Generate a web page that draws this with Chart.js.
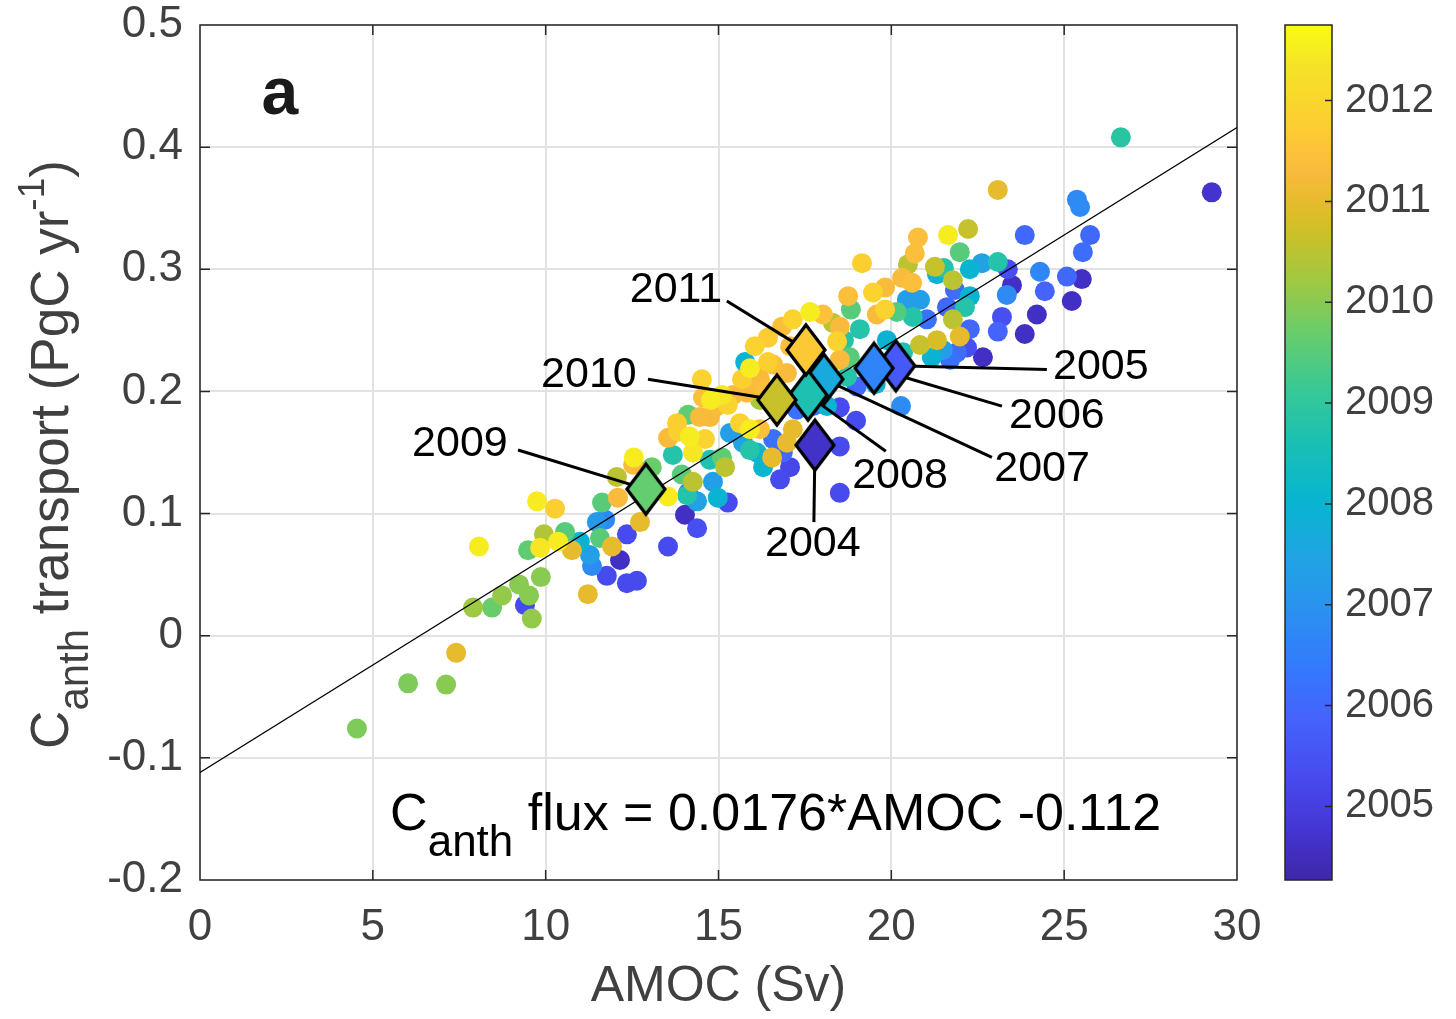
<!DOCTYPE html>
<html>
<head>
<meta charset="utf-8">
<title>AMOC vs Canth transport</title>
<script src="https://cdn.jsdelivr.net/npm/chart.js@4.4.1/dist/chart.umd.min.js"></script>
<style>
    html, body { margin: 0; padding: 0; background: #fff; }
    #wrap { width: 1456px; height: 1019px; }
</style>
</head>
<body>
<div id="wrap"><canvas id="amoc-canth-chart" width="1456" height="1019"></canvas></div>
<script>
(function () {
    'use strict';

    var FONT = '"Liberation Sans", Arial, Helvetica, sans-serif';
    var AXIS_GREY = '#404040';

    // Individual samples: AMOC strength (Sv), Canth transport (PgC/yr), sample time (decimal year)
    var amoc = [
        4.54, 6.02, 7.12, 7.41, 7.90, 8.45, 8.74, 9.23, 9.40, 9.52,
        9.60, 9.86, 8.07, 9.49, 9.84, 9.95, 9.75, 10.27, 10.36, 10.56,
        10.76, 10.99, 11.28, 11.34, 11.48, 11.57, 11.72, 11.63, 11.92, 11.77,
        12.15, 12.35, 12.64, 11.22, 12.35, 12.09, 12.06, 12.55, 12.53, 13.07,
        12.73, 13.54, 13.54, 13.68, 13.54, 13.80, 14.12, 14.17, 14.26, 14.03,
        14.38, 14.09, 14.26, 14.38,
        14.52, 14.55, 14.78, 15.10, 15.27, 15.42, 15.68, 15.91, 15.77, 16.05,
        16.43, 16.84, 17.15, 17.65, 18.02,
        13.83, 14.46, 14.75, 14.90, 14.61, 14.75, 15.10, 15.19, 13.94, 14.98,
        14.84, 15.27, 14.12,
        15.33, 15.71, 15.91, 15.91, 15.62, 16.20, 16.11, 16.29, 16.55, 16.58,
        16.86, 16.78, 17.07, 17.15, 17.27, 16.20, 16.20, 16.34, 16.14, 16.43,
        15.82, 16.58, 16.98,
        17.07, 17.73, 18.14, 16.98, 18.51, 18.51,
        18.31, 18.51, 18.75, 19.47, 19.82, 19.58, 20.31, 20.60, 20.83, 20.16,
        18.83, 19.09, 18.63, 18.43, 18.51, 18.80, 18.72, 19.00, 19.55, 20.28,
        18.98, 18.51, 20.77, 21.64, 20.68, 19.15, 20.48, 21.26, 21.32, 21.78,
        21.52, 21.98, 19.82,
        20.45, 20.62, 21.03, 21.61, 21.78, 21.32, 20.83, 21.49, 21.17, 21.90,
        20.34, 19.87,
        22.22, 23.86, 25.75, 25.54, 23.08, 22.62, 22.27, 23.37, 23.49, 24.30,
        25.08, 25.51, 23.34, 24.44, 25.22, 22.27, 21.84, 22.13, 23.20, 24.21,
        23.08, 23.86, 21.98, 22.27, 22.19, 22.65, 21.70, 23.08, 25.37, 25.46,
        29.27, 26.64
    ];

    var canth = [
        -0.076, -0.039, -0.040, -0.014, 0.023, 0.023, 0.033, 0.042, 0.025, 0.033,
        0.014, 0.048, 0.073, 0.070, 0.072, 0.083, 0.110, 0.104, 0.077, 0.085,
        0.070, 0.077, 0.066, 0.057, 0.093, 0.080, 0.095, 0.109, 0.073, 0.049,
        0.062, 0.043, 0.045, 0.034, 0.083, 0.113, 0.130, 0.146, 0.140, 0.138,
        0.093, 0.073, 0.114, 0.148, 0.162, 0.174, 0.181, 0.163, 0.150, 0.099,
        0.088, 0.115, 0.126, 0.110,
        0.210, 0.195, 0.193, 0.197, 0.189, 0.197, 0.210, 0.219, 0.224, 0.237,
        0.244, 0.253, 0.259, 0.265, 0.263,
        0.167, 0.179, 0.179, 0.187, 0.161, 0.144, 0.146, 0.138, 0.132, 0.113,
        0.126, 0.109, 0.117,
        0.166, 0.158, 0.169, 0.152, 0.174, 0.169, 0.150, 0.138, 0.146, 0.161,
        0.150, 0.128, 0.138, 0.169, 0.185, 0.193, 0.210, 0.201, 0.216, 0.224,
        0.199, 0.222, 0.215,
        0.237, 0.188, 0.188, 0.158, 0.155, 0.117,
        0.256, 0.253, 0.278, 0.281, 0.267, 0.263, 0.293, 0.289, 0.275, 0.265,
        0.267, 0.251, 0.242, 0.241, 0.226, 0.228, 0.212, 0.204, 0.206, 0.188,
        0.176, 0.187, 0.326, 0.328, 0.313, 0.305, 0.304, 0.302, 0.296, 0.291,
        0.301, 0.314, 0.285,
        0.275, 0.261, 0.259, 0.269, 0.259, 0.242, 0.238, 0.234, 0.228, 0.232,
        0.232, 0.242,
        0.333, 0.328, 0.328, 0.314, 0.306, 0.305, 0.300, 0.300, 0.287, 0.298,
        0.294, 0.292, 0.279, 0.282, 0.274, 0.278, 0.283, 0.269, 0.261, 0.263,
        0.249, 0.247, 0.245, 0.251, 0.236, 0.228, 0.226, 0.365, 0.357, 0.351,
        0.363, 0.408
    ];

    var sampleYear = [
        2009.9, 2009.9, 2010.0, 2011.0, 2010.2, 2009.7, 2010.1, 2010.0, 2005.3, 2010.0,
        2010.1, 2010.0, 2012.5, 2009.6, 2012.4, 2010.4, 2012.5, 2011.8, 2012.5, 2009.5,
        2011.0, 2008.0, 2007.3, 2006.8, 2007.2, 2009.5, 2006.7, 2009.5, 2011.0, 2005.3,
        2004.6, 2005.3, 2005.3, 2011.0, 2005.3, 2011.3, 2010.5, 2012.5, 2011.3, 2009.7,
        2011.0, 2005.3, 2012.5, 2008.8, 2011.3, 2011.8, 2009.6, 2012.5, 2012.4, 2004.6,
        2005.4, 2008.8, 2010.5, 2007.4,
        2011.9, 2011.4, 2012.5, 2012.4, 2011.9, 2011.3, 2011.8, 2012.5, 2008.0, 2011.9,
        2011.7, 2011.4, 2011.9, 2012.5, 2011.5,
        2011.8, 2011.3, 2011.2, 2011.3, 2011.9, 2008.7, 2009.6, 2010.5, 2009.5, 2008.0,
        2007.3, 2005.3, 2006.0,
        2007.3, 2007.4, 2012.5, 2008.8, 2011.9, 2011.4, 2008.0, 2008.1, 2011.0, 2006.2,
        2006.0, 2005.3, 2005.2, 2011.0, 2006.2, 2010.3, 2011.3, 2011.4, 2011.2, 2011.8,
        2011.3, 2011.4, 2011.3,
        2011.4, 2006.2, 2008.0, 2011.0, 2005.3, 2005.3,
        2010.5, 2011.3, 2011.4, 2011.9, 2011.9, 2011.3, 2011.3, 2011.4, 2007.3, 2009.4,
        2009.5, 2008.8, 2008.8, 2011.9, 2011.3, 2009.5, 2008.8, 2006.0, 2008.0, 2006.8,
        2005.3, 2005.3, 2011.4, 2012.5, 2011.4, 2011.8, 2010.5, 2010.6, 2008.0, 2010.5,
        2008.8, 2009.5, 2011.3,
        2007.3, 2008.8, 2006.2, 2006.0, 2010.5, 2010.8, 2010.6, 2007.3, 2008.0, 2006.1,
        2008.7, 2008.0,
        2010.6, 2006.0, 2006.0, 2006.1, 2008.8, 2007.4, 2008.0, 2005.4, 2004.6, 2006.7,
        2006.0, 2004.6, 2006.8, 2005.9, 2004.6, 2008.0, 2006.1, 2008.8, 2005.4, 2004.6,
        2005.9, 2004.6, 2011.0, 2006.0, 2005.4, 2004.6, 2006.2, 2011.0, 2006.8, 2006.8,
        2004.7, 2008.9
    ];

    // Annual means
    var meanYears = [2004, 2005, 2006, 2007, 2008, 2009, 2010, 2011];
    var meanAmoc = [17.79, 20.13, 19.50, 18.05, 17.59, 12.90, 16.69, 17.53];
    var meanCanth = [0.156, 0.221, 0.219, 0.210, 0.197, 0.120, 0.193, 0.234];

    // Linear fit Canth flux = slope * AMOC + intercept
    var fitSlope = 0.0176;
    var fitIntercept = -0.112;

    var xTicks = [0, 5, 10, 15, 20, 25, 30];
    var yTicks = [-0.2, -0.1, 0, 0.1, 0.2, 0.3, 0.4, 0.5];
    var colorbarTicks = [2005, 2006, 2007, 2008, 2009, 2010, 2011, 2012];
    var colorRange = [2004.27, 2012.75];

    // Where each year tag sits and where its leader line stops (data units)
    var tagLayout = {
        2004: { text: [17.73, 0.075], lineEnd: [17.76, 0.093] },
        2005: { text: [26.06, 0.220], lineEnd: [24.50, 0.218] },
        2006: { text: [24.79, 0.180], lineEnd: [23.20, 0.188] },
        2007: { text: [24.36, 0.136], lineEnd: [22.91, 0.146] },
        2008: { text: [20.25, 0.131], lineEnd: [19.84, 0.151] },
        2009: { text: [7.52, 0.157], lineEnd: [9.20, 0.152] },
        2010: { text: [11.25, 0.213], lineEnd: [12.96, 0.210] },
        2011: { text: [13.77, 0.283], lineEnd: [15.24, 0.274] }
    };

    // parula colormap, sampled from the 64 entry table
    var PARULA = [
        [0, 0.2422, 0.1504, 0.6603], [4, 0.2706, 0.2147, 0.8364],
        [8, 0.2813, 0.3006, 0.9414], [12, 0.2699, 0.3892, 0.9906],
        [16, 0.1963, 0.4847, 0.9892], [20, 0.1687, 0.5703, 0.9359],
        [24, 0.1248, 0.6459, 0.8883], [28, 0.0297, 0.7082, 0.8163],
        [32, 0.0964, 0.7500, 0.7120], [36, 0.2161, 0.7843, 0.5923],
        [40, 0.3909, 0.8029, 0.4354], [44, 0.6174, 0.7876, 0.2612],
        [48, 0.8203, 0.7498, 0.1535], [50, 0.9035, 0.7330, 0.1774],
        [52, 0.9728, 0.7298, 0.2394], [54, 0.9970, 0.7659, 0.2199],
        [56, 0.9892, 0.8136, 0.1885], [60, 0.9610, 0.8890, 0.1537],
        [63, 0.9769, 0.9839, 0.0805]
    ];

    function parula(value) {
        var t = (value - colorRange[0]) / (colorRange[1] - colorRange[0]);
        var idx = Math.max(0, Math.min(1, t)) * 63;
        var k = 0;
        while (k < PARULA.length - 2 && PARULA[k + 1][0] < idx) {
            k++;
        }
        var a = PARULA[k], b = PARULA[k + 1];
        var f = (idx - a[0]) / (b[0] - a[0]);
        var rgb = [1, 2, 3].map(function (j) {
            return Math.round(255 * (a[j] + (b[j] - a[j]) * f));
        });
        return 'rgb(' + rgb.join(',') + ')';
    }

    function diamondImage(fill) {
        var w = 44, h = 56;
        var c = document.createElement('canvas');
        c.width = w;
        c.height = h;
        var ctx = c.getContext('2d');
        ctx.beginPath();
        ctx.moveTo(w / 2, 3);
        ctx.lineTo(w - 3, h / 2);
        ctx.lineTo(w / 2, h - 3);
        ctx.lineTo(3, h / 2);
        ctx.closePath();
        ctx.fillStyle = fill;
        ctx.fill();
        ctx.lineWidth = 3.2;
        ctx.lineJoin = 'miter';
        ctx.strokeStyle = '#000';
        ctx.stroke();
        return c;
    }

    // later samples are drawn on top
    var order = amoc.map(function (v, i) { return i; }).sort(function (a, b) {
        return sampleYear[a] - sampleYear[b];
    });
    var samplePoints = order.map(function (i) { return { x: amoc[i], y: canth[i] }; });
    var sampleColors = order.map(function (i) { return parula(sampleYear[i]); });

    // annual means are coloured at the middle of their averaging window
    var meanPoints = meanYears.map(function (y, i) { return { x: meanAmoc[i], y: meanCanth[i] }; });
    var meanImages = meanYears.map(function (y) { return diamondImage(parula(y + 0.65)); });

    var leaderSets = meanYears.map(function (y, i) {
        var end = tagLayout[y].lineEnd;
        return {
            label: 'leader ' + y,
            data: [{ x: meanAmoc[i], y: meanCanth[i] }, { x: end[0], y: end[1] }],
            showLine: true,
            borderColor: '#000',
            borderWidth: 3,
            pointRadius: 0,
            order: 1
        };
    });

    var fitLine = [xTicks[0], xTicks[xTicks.length - 1]].map(function (x) {
        return { x: x, y: fitSlope * x + fitIntercept };
    });

    function drawFrame(chart) {
        var ctx = chart.ctx;
        var area = chart.chartArea;
        var xs = chart.scales.x, ys = chart.scales.y, cb = chart.scales.cb;
        ctx.save();
        ctx.strokeStyle = '#262626';
        ctx.lineWidth = 1.5;
        ctx.strokeRect(area.left, area.top, area.right - area.left, area.bottom - area.top);

        // inward tick marks on all four sides
        ctx.beginPath();
        xTicks.slice(1, -1).forEach(function (v) {
            var px = xs.getPixelForValue(v);
            ctx.moveTo(px, area.bottom);
            ctx.lineTo(px, area.bottom - 10);
            ctx.moveTo(px, area.top);
            ctx.lineTo(px, area.top + 10);
        });
        yTicks.slice(1, -1).forEach(function (v) {
            var py = ys.getPixelForValue(v);
            ctx.moveTo(area.left, py);
            ctx.lineTo(area.left + 10, py);
            ctx.moveTo(area.right, py);
            ctx.lineTo(area.right - 10, py);
        });
        ctx.stroke();

        // colour bar
        var x0 = area.right + 48, x1 = area.right + 95;
        for (var py = Math.floor(cb.top); py < cb.bottom; py++) {
            ctx.fillStyle = parula(cb.getValueForPixel(py + 0.5));
            ctx.fillRect(x0, py, x1 - x0, 1);
        }
        ctx.strokeRect(x0, cb.top, x1 - x0, cb.bottom - cb.top);
        ctx.beginPath();
        colorbarTicks.forEach(function (v) {
            var p = cb.getPixelForValue(v);
            ctx.moveTo(x1, p);
            ctx.lineTo(x1 - 7, p);
        });
        ctx.stroke();
        ctx.restore();
    }

    // draws runs of normal / sub / superscript text along a baseline
    function drawRich(ctx, parts, x, y, align) {
        var widths = parts.map(function (p) {
            ctx.font = (p.bold ? 'bold ' : '') + p.size + 'px ' + FONT;
            return ctx.measureText(p.text).width;
        });
        var total = widths.reduce(function (s, w) { return s + w; }, 0);
        var cx = align === 'center' ? x - total / 2 : x;
        parts.forEach(function (p, i) {
            ctx.font = (p.bold ? 'bold ' : '') + p.size + 'px ' + FONT;
            ctx.fillText(p.text, cx, y + (p.shift || 0));
            cx += widths[i];
        });
    }

    function drawAnnotations(chart) {
        var ctx = chart.ctx;
        var xs = chart.scales.x, ys = chart.scales.y;
        ctx.save();
        ctx.fillStyle = '#000';
        ctx.textAlign = 'center';
        ctx.textBaseline = 'middle';
        ctx.font = '43px ' + FONT;
        meanYears.forEach(function (y) {
            var t = tagLayout[y].text;
            ctx.fillText(String(y), xs.getPixelForValue(t[0]), ys.getPixelForValue(t[1]));
        });

        ctx.font = 'bold 66px ' + FONT;
        ctx.fillStyle = '#1a1a1a';
        ctx.fillText('a', xs.getPixelForValue(2.31), ys.getPixelForValue(0.442));

        ctx.fillStyle = '#000';
        ctx.textAlign = 'left';
        ctx.textBaseline = 'alphabetic';
        drawRich(ctx, [
            { text: 'C', size: 52 },
            { text: 'anth', size: 44, shift: 26 },
            { text: ' flux = ' + fitSlope.toFixed(4) + '*AMOC ' + fitIntercept.toFixed(3), size: 52 }
        ], xs.getPixelForValue(5.5), ys.getPixelForValue(-0.159), 'left');
        ctx.restore();
    }

    function drawYTitle(chart) {
        var ctx = chart.ctx;
        var area = chart.chartArea;
        ctx.save();
        ctx.translate(68, (area.top + area.bottom) / 2 + 2);
        ctx.rotate(-Math.PI / 2);
        ctx.fillStyle = AXIS_GREY;
        ctx.textAlign = 'left';
        ctx.textBaseline = 'alphabetic';
        drawRich(ctx, [
            { text: 'C', size: 53 },
            { text: 'anth', size: 42, shift: 20 },
            { text: ' transport (PgC yr', size: 53 },
            { text: '-1', size: 37, shift: -24 },
            { text: ')', size: 53 }
        ], 0, 0, 'center');
        ctx.restore();
    }

    var decorations = {
        id: 'decorations',
        beforeDatasetsDraw: drawFrame,
        afterDatasetsDraw: drawAnnotations,
        afterDraw: drawYTitle
    };

    // vertical axes must not push the plot area down with their label padding
    function fixVertical(width) {
        return function (s) {
            s.width = width;
            s.paddingTop = 0;
            s.paddingBottom = 0;
        };
    }

    new Chart(document.getElementById('amoc-canth-chart'), {
        type: 'scatter',
        data: {
            datasets: [{
                label: 'annual means',
                data: meanPoints,
                pointStyle: meanImages,
                pointRadius: 20,
                order: 0
            }].concat(leaderSets, [{
                label: 'fit',
                data: fitLine,
                showLine: true,
                borderColor: '#000',
                borderWidth: 1.3,
                pointRadius: 0,
                order: 2
            }, {
                label: 'samples',
                data: samplePoints,
                backgroundColor: sampleColors,
                borderWidth: 0,
                pointRadius: 10,
                order: 3
            }])
        },
        options: {
            responsive: false,
            animation: false,
            devicePixelRatio: 1,
            layout: { padding: { top: 25, left: 0, right: 0, bottom: 0 } },
            plugins: {
                legend: { display: false },
                tooltip: { enabled: false }
            },
            scales: {
                x: {
                    type: 'linear',
                    position: 'bottom',
                    min: 0,
                    max: 30,
                    afterBuildTicks: function (s) {
                        s.ticks = xTicks.map(function (v) { return { value: v }; });
                    },
                    afterFit: function (s) {
                        s.height = 139;
                        s.paddingLeft = 0;
                        s.paddingRight = 0;
                    },
                    grid: { color: '#e2e2e2', lineWidth: 2, drawTicks: false },
                    border: { display: false },
                    ticks: {
                        padding: 21,
                        color: AXIS_GREY,
                        font: { family: FONT, size: 44 },
                        maxRotation: 0,
                        autoSkip: false,
                        callback: function (v) { return String(v); }
                    },
                    title: {
                        display: true,
                        text: 'AMOC (Sv)',
                        color: AXIS_GREY,
                        font: { family: FONT, size: 50 },
                        padding: { top: 0, bottom: 2 }
                    }
                },
                y: {
                    type: 'linear',
                    position: 'left',
                    min: -0.2,
                    max: 0.5,
                    afterBuildTicks: function (s) {
                        s.ticks = yTicks.map(function (v) { return { value: v }; });
                    },
                    afterFit: fixVertical(200),
                    grid: { color: '#e2e2e2', lineWidth: 2, drawTicks: false },
                    border: { display: false },
                    ticks: {
                        padding: 17,
                        color: AXIS_GREY,
                        font: { family: FONT, size: 44, lineHeight: 1 },
                        autoSkip: false,
                        callback: function (v) {
                            return Math.abs(v) < 1e-9 ? '0' : v.toFixed(1);
                        }
                    }
                },
                cb: {
                    type: 'linear',
                    position: 'right',
                    min: colorRange[0],
                    max: colorRange[1],
                    afterBuildTicks: function (s) {
                        s.ticks = colorbarTicks.map(function (v) { return { value: v }; });
                    },
                    afterFit: fixVertical(219),
                    grid: { display: false, drawTicks: false },
                    border: { display: false },
                    ticks: {
                        padding: 108,
                        color: AXIS_GREY,
                        font: { family: FONT, size: 40, lineHeight: 1 },
                        autoSkip: false,
                        callback: function (v) { return String(v); }
                    }
                }
            }
        },
        plugins: [decorations]
    });
})();
</script>
</body>
</html>
